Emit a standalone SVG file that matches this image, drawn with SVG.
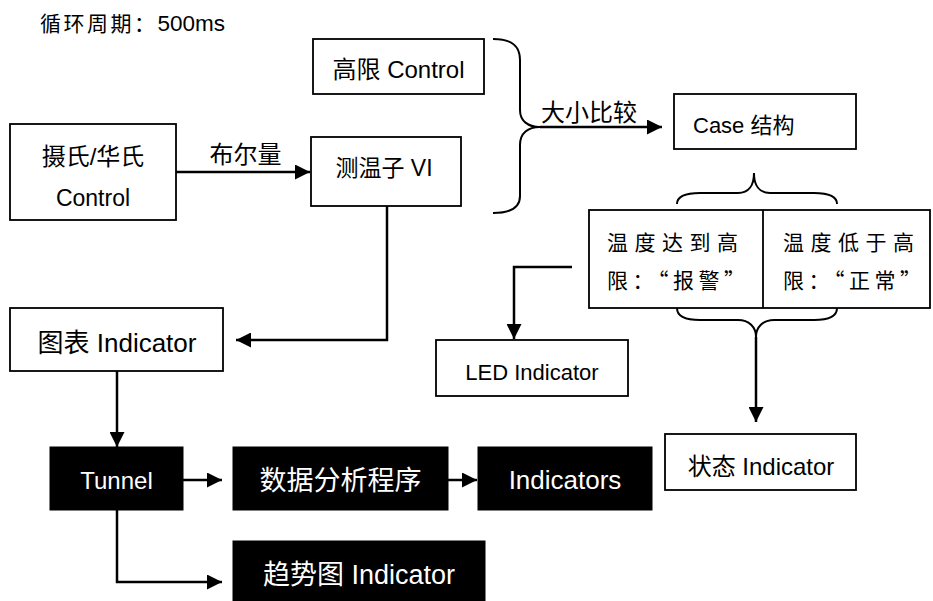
<svg xmlns="http://www.w3.org/2000/svg" width="933" height="601" viewBox="0 0 933 601">
<style>
text{font-family:"Liberation Sans","Noto Sans CJK SC",sans-serif;fill:#000}
.box{fill:#fff;stroke:#000;stroke-width:1.8}
.blk{fill:#000;stroke:#000;stroke-width:1}
.w{fill:#fff}
.c{text-anchor:middle}
.ln{fill:none;stroke:#000;stroke-width:2.5}
.br{fill:none;stroke:#000;stroke-width:2}
.cell{font-family:"Noto Sans CJK SC",sans-serif;font-size:21px;letter-spacing:6.5px}
.cell2{font-family:"Noto Sans CJK SC",sans-serif;font-size:21px;letter-spacing:4.5px}
</style>
<defs>
<marker id="ah" markerUnits="userSpaceOnUse" markerWidth="15" markerHeight="15" refX="15" refY="7.5" orient="auto">
<path d="M0,0 L15,7.5 L0,15 z" fill="#000"/>
</marker>
</defs>
<rect width="933" height="601" fill="#fff"/>
<text x="40" y="31" font-size="21" letter-spacing="2.5">循环周期：<tspan letter-spacing="0" font-size="22.5">500ms</tspan></text>

<g id="sheshi">
<rect class="box" x="10" y="124" width="166" height="96"/>
<text class="c" x="93" y="165" font-size="24">摄氏/华氏</text>
<text class="c" x="93" y="206" font-size="23">Control</text>
</g>
<g id="gaoxian">
<rect class="box" x="313" y="39" width="171" height="55"/>
<text class="c" x="398.5" y="78" font-size="24">高限 Control</text>
</g>
<g id="cewenzi">
<rect class="box" x="311" y="137" width="150" height="69"/>
<text class="c" x="384" y="176" font-size="23">测温子 VI</text>
</g>
<g id="case">
<rect class="box" x="674" y="94" width="182" height="55"/>
<text x="693" y="133" font-size="22">Case 结构</text>
</g>
<g id="split">
<rect class="box" x="589" y="210" width="341" height="98"/>
<line x1="763" y1="210" x2="763" y2="308" stroke="#000" stroke-width="1.8"/>
<text class="cell" x="607" y="250">温度达到高</text>
<text class="cell2" x="607" y="288">限：“报警”</text>
<text class="cell" x="783" y="250">温度低于高</text>
<text class="cell2" x="783" y="288">限：“正常”</text>
</g>
<g id="tubiao">
<rect class="box" x="10" y="308" width="213" height="63"/>
<text class="c" x="117" y="352" font-size="26">图表 Indicator</text>
</g>
<g id="led">
<rect class="box" x="436" y="340" width="192" height="56"/>
<text class="c" x="532" y="380" font-size="22">LED Indicator</text>
</g>
<g id="zhuangtai">
<rect class="box" x="665" y="434" width="191" height="56"/>
<text class="c" x="761" y="475" font-size="24">状态 Indicator</text>
</g>
<g id="tunnel">
<rect class="blk" x="50" y="447" width="133" height="63"/>
<text class="c w" x="116.5" y="489" font-size="24">Tunnel</text>
</g>
<g id="shuju">
<rect class="blk" x="233" y="447" width="215" height="63"/>
<text class="c w" x="340.5" y="490" font-size="27">数据分析程序</text>
</g>
<g id="indicators">
<rect class="blk" x="478" y="447" width="174" height="63"/>
<text class="c w" x="565" y="489" font-size="26">Indicators</text>
</g>
<g id="qushi">
<rect class="blk" x="233" y="541" width="252" height="62"/>
<text class="c w" x="359" y="584" font-size="27">趋势图 Indicator</text>
</g>

<g id="connectors">
<path class="ln" d="M176,172 H310" marker-end="url(#ah)"/>
<text class="c" x="245.5" y="163" font-size="24">布尔量</text>
<path class="br" d="M493,39 C512,39 520,46 520,60 V110 C520,121 528,127 540,127 C528,127 520,133 520,145 V196 C520,207 512,213 493,213"/>
<path class="ln" d="M540,127 H662" marker-end="url(#ah)"/>
<text class="c" x="589" y="121" font-size="24">大小比较</text>
<path class="br" d="M677,204 C677,197 685,193 700,193 H738 C749,193 754,185 754,173 C754,185 759,193 770,193 H814 C830,193 837,197 837,204"/>
<path class="br" d="M677,308 C677,316 685,320 700,320 H738 C749,320 756,327 756,337 C756,327 763,320 774,320 H814 C830,320 837,316 837,308"/>
<path class="ln" d="M756,337 V422" marker-end="url(#ah)"/>
<path class="ln" d="M572,267 H514 V339" marker-end="url(#ah)"/>
<path class="ln" d="M387,206 V340 H236" marker-end="url(#ah)"/>
<path class="ln" d="M117,371 V447" marker-end="url(#ah)"/>
<path class="ln" d="M183,480 H222" marker-end="url(#ah)"/>
<path class="ln" d="M448,480 H477" marker-end="url(#ah)"/>
<path class="ln" d="M117,510 V582 H222" marker-end="url(#ah)"/>
</g>
</svg>
